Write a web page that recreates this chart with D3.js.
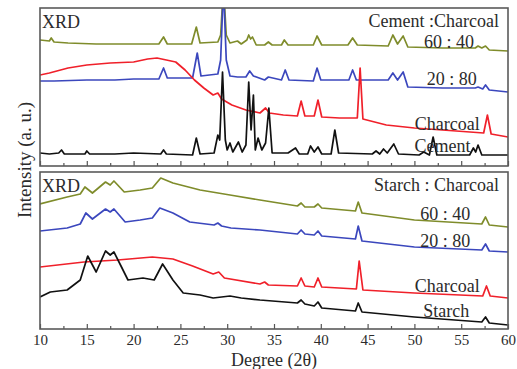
<!DOCTYPE html>
<html>
<head>
<meta charset="utf-8">
<script src="https://cdn.jsdelivr.net/npm/d3@7/dist/d3.min.js"></script>
<style>
  body { margin: 0; background: #fff; }
  svg text { font-family: 'Liberation Serif', 'Times New Roman', serif; fill: #2b2b2b; }
</style>
</head>
<body>
<div id="chart"></div>
<script>
// 2θ axis
const xTicks = [10, 15, 20, 25, 30, 35, 40, 45, 50, 55, 60];
const xMinorTicks = [12.5, 17.5, 22.5, 27.5, 32.5, 37.5, 42.5, 47.5, 52.5, 57.5];

// top panel: Cement : Charcoal  ([2θ, intensity a.u.])
const cement60_40 = [
  [10, 126], [11, 125], [11.2, 128], [11.5, 124], [13, 123], [16, 122], [20, 122], [22.7, 122],
  [23.2, 129], [23.6, 122], [26.2, 122], [26.7, 139], [27.1, 123], [29.0, 124], [29.3, 131],
  [29.6, 180], [29.9, 131], [30.3, 123], [31.1, 125], [31.5, 122], [32.1, 126], [32.3, 131],
  [32.5, 127], [32.7, 129], [33.1, 121], [34.0, 121], [34.4, 124], [34.8, 121], [35.8, 121],
  [36.1, 126], [36.5, 121], [39.2, 121], [39.6, 130], [40.1, 121], [42.9, 121], [43.4, 128],
  [43.9, 121], [47.2, 120], [47.7, 131], [48.2, 122], [48.8, 130], [49.3, 119], [53, 118],
  [56.5, 118], [56.8, 120], [57.2, 118], [57.6, 120], [58.0, 116], [60, 115]
];
const cement20_80 = [
  [10, 85], [11.5, 85], [15, 86], [18, 86], [20, 87], [22.7, 87], [23.2, 98], [23.6, 88],
  [26.3, 88], [26.8, 113], [27.2, 90], [29.0, 92], [29.3, 106], [29.6, 180], [29.9, 106],
  [30.3, 90], [31.1, 89], [32.0, 89], [32.4, 95], [32.8, 90], [34.0, 86], [34.4, 89],
  [35.8, 86], [36.2, 96], [36.6, 86], [39.2, 85], [39.6, 98], [40.0, 86], [43.0, 86],
  [43.4, 96], [43.8, 86], [47.2, 86], [47.7, 93], [48.2, 86], [48.8, 94], [49.3, 79],
  [53, 78], [56.5, 78], [56.8, 79], [57.3, 77], [57.6, 81], [58.0, 76], [60, 74]
];
const charcoalTop = [
  [10, 91], [11, 93], [13, 98], [15, 101], [17.5, 103], [20, 104], [21.5, 107], [22.5, 108],
  [23.5, 106], [24.5, 104], [25.5, 96], [26.5, 86], [27.5, 78], [28.5, 71], [29.0, 73],
  [29.4, 67], [30.5, 61], [32, 56], [33.5, 53], [34.1, 58], [34.5, 53], [36, 51], [37.5, 50],
  [37.9, 65], [38.3, 50], [39.3, 50], [39.7, 66], [40.1, 49], [42, 48], [43.9, 48], [44.2, 98],
  [44.5, 47], [47, 41], [50, 38], [53, 36], [57.4, 33], [57.8, 51], [58.2, 32], [60, 29]
];
const cement = [
  [10, 13], [11, 12], [12.0, 13], [12.3, 16], [12.6, 12], [14.8, 12], [15.0, 15], [15.3, 12],
  [18, 12], [20, 13], [22.9, 12], [23.2, 16], [23.5, 12], [26.3, 11], [26.7, 28], [27.1, 12],
  [28.6, 13], [29.0, 31], [29.2, 26], [29.5, 94], [29.8, 26], [30.0, 16], [30.3, 23], [30.6, 14],
  [31.2, 24], [31.6, 14], [32.0, 21], [32.3, 84], [32.55, 36], [32.8, 71], [33.0, 16], [33.3, 28],
  [33.7, 16], [34.1, 23], [34.45, 58], [34.8, 13], [36.5, 13], [37.3, 18], [37.7, 12], [38.6, 12],
  [38.9, 20], [39.3, 14], [39.7, 19], [40.1, 12], [41.1, 12], [41.5, 36], [41.9, 13], [45.5, 12],
  [45.9, 15], [46.3, 12], [46.7, 17], [47.1, 13], [47.8, 22], [48.3, 12], [50.5, 11], [51.0, 14],
  [51.6, 11], [52.0, 29], [52.4, 11], [55.9, 11], [56.3, 18], [56.55, 14], [56.8, 21], [57.2, 11],
  [60, 11]
];

// bottom panel: Starch : Charcoal
const starch60_40 = [
  [10, 125], [12.9, 132], [14.3, 135], [14.8, 142], [15.6, 136], [17.0, 147], [17.5, 144],
  [17.9, 148], [19.0, 137], [20.7, 139], [22.0, 141], [22.9, 151], [24.2, 146], [27.1, 139],
  [30.3, 134], [33.5, 129], [37.5, 123], [37.9, 126], [38.3, 122], [39.3, 122], [39.7, 125],
  [40.1, 121], [43.7, 118], [44.0, 127], [44.4, 116], [50, 109], [57.2, 105], [57.6, 112],
  [58.0, 104], [60, 102]
];
const starch20_80 = [
  [10, 98], [12.9, 101], [14.3, 105], [14.9, 116], [15.6, 110], [17.0, 120], [17.5, 117],
  [17.9, 120], [19.1, 107], [20.7, 109], [22.0, 111], [22.8, 121], [24.2, 116], [26.0, 107],
  [28.6, 104], [29.0, 106], [29.4, 103], [30.4, 101], [33.5, 99], [37.5, 95], [37.9, 99],
  [38.3, 95], [39.3, 94], [39.7, 98], [40.1, 93], [43.7, 90], [44.0, 103], [44.4, 88],
  [50, 82], [57.2, 79], [57.6, 85], [58.0, 78], [60, 77]
];
const charcoalBottom = [
  [10, 62], [14.7, 67], [18.3, 69], [22.0, 72], [24.2, 70], [26.3, 63], [28.5, 55], [29.1, 57],
  [29.7, 51], [33.5, 45], [34.0, 47], [34.4, 44], [37.5, 43], [37.9, 51], [38.3, 43], [39.3, 42],
  [39.7, 51], [40.1, 42], [43.8, 40], [44.1, 68], [44.5, 39], [50, 36], [57.3, 33], [57.7, 43],
  [58.1, 33], [60, 31]
];
const starch = [
  [10, 32], [11.1, 37], [12.9, 39], [14.3, 49], [15.1, 73], [16.0, 57], [17.0, 78], [17.5, 74],
  [17.9, 77], [18.6, 64], [19.4, 49], [21.0, 51], [22.2, 49], [23.1, 65], [24.2, 49], [25.3, 36],
  [27.1, 34], [28.5, 31], [30.3, 33], [31.5, 31], [33.5, 29], [37.5, 26], [37.9, 29], [38.3, 25],
  [39.3, 23], [39.7, 27], [40.1, 21], [43.7, 18], [44.0, 26], [44.4, 17], [50, 12], [57.2, 7],
  [57.6, 12], [58.0, 6], [60, 4]
];

const colors = { olive: '#7f8c2b', blue: '#3b47bd', red: '#f0202a', black: '#111111' };
const serif = "'Liberation Serif', 'Times New Roman', serif";

const panels = [
  {
    title: 'Cement :Charcoal', top: 8, bottom: 166, yMax: 158,
    series: [
      { name: '60 : 40', data: cement60_40, color: colors.olive, lx: 53.7, ly: 118 },
      { name: '20 : 80', data: cement20_80, color: colors.blue, lx: 54.0, ly: 81 },
      { name: 'Charcoal', data: charcoalTop, color: colors.red, lx: 53.5, ly: 36 },
      { name: 'Cement', data: cement, color: colors.black, lx: 53.0, ly: 14 }
    ]
  },
  {
    title: 'Starch : Charcoal', top: 172, bottom: 329, yMax: 157,
    series: [
      { name: '60 : 40', data: starch60_40, color: colors.olive, lx: 53.3, ly: 109 },
      { name: '20 : 80', data: starch20_80, color: colors.blue, lx: 53.3, ly: 82 },
      { name: 'Charcoal', data: charcoalBottom, color: colors.red, lx: 53.5, ly: 37 },
      { name: 'Starch', data: starch, color: colors.black, lx: 53.4, ly: 12 }
    ]
  }
];

const width = 517, height = 369;
const left = 40, right = 508;

const svg = d3.select('#chart').append('svg')
  .attr('width', width)
  .attr('height', height);

const x = d3.scaleLinear().domain([10, 60]).range([left, right]);

panels.forEach((p, i) => {
  const y = d3.scaleLinear().domain([0, p.yMax]).range([p.bottom, p.top]);
  const g = svg.append('g');

  const clipId = 'clip' + i;
  svg.append('clipPath').attr('id', clipId)
    .append('rect')
    .attr('x', left).attr('y', p.top)
    .attr('width', right - left).attr('height', p.bottom - p.top);

  const line = d3.line().x(d => x(d[0])).y(d => y(d[1]));

  g.append('g').attr('clip-path', 'url(#' + clipId + ')')
    .selectAll('path')
    .data(p.series)
    .enter().append('path')
    .attr('d', d => line(d.data))
    .attr('fill', 'none')
    .attr('stroke', d => d.color)
    .attr('stroke-width', 1.7)
    .attr('stroke-linejoin', 'round');

  // series names sit on the right, next to their traces
  g.selectAll('text.name')
    .data(p.series)
    .enter().append('text')
    .attr('class', 'name')
    .attr('x', d => x(d.lx))
    .attr('y', d => y(d.ly))
    .attr('text-anchor', 'middle')
    .attr('font-family', serif)
    .style('font-size', '18px')
    .text(d => d.name);

  g.append('text')
    .attr('x', right - 9)
    .attr('y', p.top + 19)
    .attr('text-anchor', 'end')
    .attr('font-family', serif)
    .style('font-size', '18px')
    .text(p.title);

  g.append('text')
    .attr('x', left + 2)
    .attr('y', p.top + 20)
    .attr('font-family', serif)
    .style('font-size', '18px')
    .text('XRD');

  // inward ticks on the bottom edge
  const major = g.append('g')
    .attr('transform', 'translate(0,' + p.bottom + ')')
    .call(d3.axisBottom(x).tickValues(xTicks).tickSize(-5).tickPadding(5)
      .tickFormat(i === 1 ? d3.format('d') : ''));
  const minor = g.append('g')
    .attr('transform', 'translate(0,' + p.bottom + ')')
    .call(d3.axisBottom(x).tickValues(xMinorTicks).tickSize(-3).tickFormat(''));
  [major, minor].forEach(a => {
    a.attr('font-family', serif);
    a.select('.domain').remove();
    a.selectAll('line').attr('stroke', '#555').attr('stroke-width', 1.2);
  });
  major.selectAll('text')
    .style('font-size', '15px')
    .attr('fill', '#2b2b2b');

  g.append('rect')
    .attr('x', left).attr('y', p.top)
    .attr('width', right - left).attr('height', p.bottom - p.top)
    .attr('fill', 'none')
    .attr('stroke', '#5a5a5a')
    .attr('stroke-width', 1.6);
});

svg.append('text')
  .attr('x', x(35))
  .attr('y', 366)
  .attr('text-anchor', 'middle')
  .attr('font-family', serif)
  .style('font-size', '18px')
  .text('Degree (2\u03b8)');

svg.append('text')
  .attr('transform', 'translate(31,160) rotate(-90)')
  .attr('text-anchor', 'middle')
  .attr('font-family', serif)
  .style('font-size', '19px')
  .text('Intensity (a. u.)');
</script>
</body>
</html>
